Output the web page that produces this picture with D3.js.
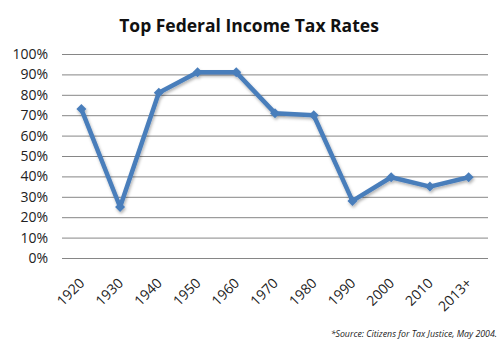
<!DOCTYPE html>
<html><head><meta charset="utf-8">
<script src="https://cdn.jsdelivr.net/npm/d3@7"></script>
<style>body{margin:0;background:#fff}svg{display:block}</style>
</head><body>
<script>
const categories = ["1920","1930","1940","1950","1960","1970","1980","1990","2000","2010","2013+"];
const rates = [73, 25, 81, 91, 91, 71, 70, 28, 39.6, 35, 39.6];
const yTicks = [0,10,20,30,40,50,60,70,80,90,100];
const title = "Top Federal Income Tax Rates";
const source = "*Source: Citizens for Tax Justice, May 2004.";

const W = 502, H = 346;
const svg = d3.select("body").append("svg").attr("width", W).attr("height", H);
const defs = svg.append("defs");
const f = defs.append("filter").attr("id","sh").attr("x","-20%").attr("y","-20%").attr("width","140%").attr("height","140%");
f.append("feDropShadow").attr("dx",1).attr("dy",2).attr("stdDeviation",1.5).attr("flood-color","#000").attr("flood-opacity",0.3);

const x = d3.scaleBand().domain(categories).range([62, 488]);
const y = d3.scaleLinear().domain([0,100]).range([258, 54]);

svg.append("text").attr("x", 249).attr("y", 32).attr("text-anchor","middle")
  .attr("font-family","Open Sans, sans-serif").attr("font-weight","bold").attr("font-size",17.5)
  .attr("fill","#111").text(title);

const grid = svg.append("g").attr("transform","translate(62,0)")
  .call(d3.axisLeft(y).tickValues(yTicks).tickSize(-(488-62)).tickFormat(d => d + "%"));
grid.select(".domain").remove();
grid.selectAll(".tick line").attr("stroke","#868686").attr("stroke-width",1);
grid.selectAll(".tick text").attr("x",-14).attr("fill","#222")
  .attr("font-family","Open Sans, sans-serif").attr("font-size",14);

const xa = svg.append("g").attr("transform","translate(0,258)")
  .call(d3.axisBottom(x).tickSize(0));
xa.select(".domain").remove();
xa.selectAll(".tick text")
  .attr("font-family","Open Sans, sans-serif").attr("font-size",14).attr("fill","#222")
  .attr("text-anchor","end").attr("x",0).attr("y",0).attr("dy",0)
  .attr("transform","translate(4,26) rotate(-45)");

const pts = categories.map((c,i) => [x(c) + x.bandwidth()/2, y(rates[i])]);
const g = svg.append("g").attr("filter","url(#sh)");
g.append("path").attr("d", d3.line()(pts)).attr("fill","none")
  .attr("stroke","#4A7EBB").attr("stroke-width",4.5).attr("stroke-linejoin","round");
g.selectAll("path.m").data(pts).join("path").attr("class","m")
  .attr("d", d3.symbol(d3.symbolSquare, 50)())
  .attr("transform", d => `translate(${d[0]},${d[1]}) rotate(45)`)
  .attr("fill","#4A7EBB");

svg.append("text").attr("x", 497).attr("y", 337).attr("text-anchor","end")
  .attr("font-family","Open Sans, sans-serif").attr("font-style","italic").attr("font-size",8.8)
  .attr("fill","#222").text(source);
</script>
</body></html>
